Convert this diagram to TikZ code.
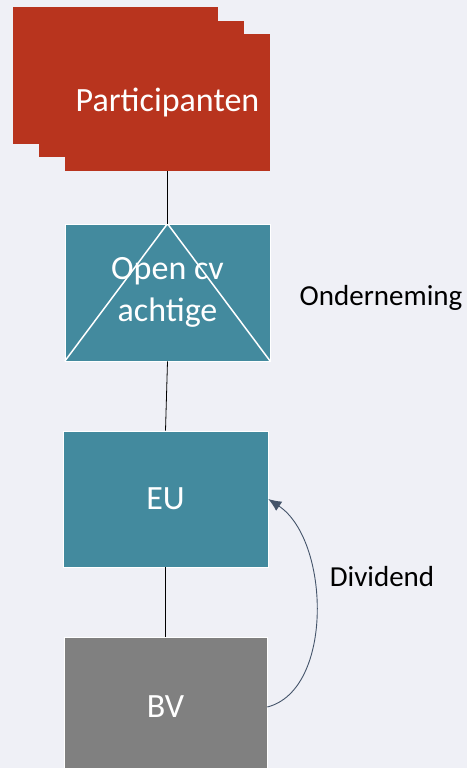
\documentclass[tikz,border=0pt]{standalone}
\usepackage{fontspec}
\setmainfont{Carlito}
\usepackage{tikz}
\usetikzlibrary{arrows.meta}
\definecolor{achtergrond}{RGB}{239,240,246}
\definecolor{rood}{RGB}{184,52,30}
\definecolor{blauwgroen}{RGB}{67,138,158}
\definecolor{grijs}{RGB}{128,128,128}
\definecolor{pijlkleur}{RGB}{68,84,106}

\begin{document}
\begin{tikzpicture}[x=1pt,y=-1pt,
		doos/.style={draw=white,line width=0.6pt,minimum width=205pt,minimum height=137pt,inner sep=0pt,align=center,text=white,font=\fontsize{34}{42}\selectfont},
		label/.style={text=black,font=\fontsize{29}{32}\selectfont}]
		\fill[achtergrond] (0,0) rectangle (467,768);
		\useasboundingbox (0,0) rectangle (467,768);
		\clip (0,0) rectangle (467,768);
		% stapel participanten
		\fill[rood] (13,7) rectangle (218,144);
		\fill[rood] (39,21) rectangle (244,157);
		\node[doos,fill=rood,draw=none] (part) at (167.5,102.5) {Participanten};
		\node[doos,fill=blauwgroen] (opencv) at (167.5,292.5) {Open cv\\achtige};
		\draw[white,line width=1.5pt] (opencv.south west) -- (opencv.north) -- (opencv.south east);%driehoek
		\node[doos,fill=blauwgroen,minimum height=136pt] (eu) at (165.5,499) {EU};
		\node[doos,fill=grijs,minimum width=203pt,minimum height=140pt] (bv) at (165.5,707) {BV};
		% verbindingen
		\draw[black,line width=0.8pt] (part.south) -- (opencv.north);
		\draw[black,line width=0.8pt] (opencv.south) -- (eu.north);
		\draw[black,line width=0.8pt] (eu.south) -- (bv.north);
		\draw[pijlkleur,line width=0.9pt,-{Latex[length=13pt,width=11pt]}] (bv.east) .. controls (334,690) and (330,540) .. (eu.east);
		\node[label] (onderneming) at (381,298) {Onderneming};
		\node[label] (dividend) at (382,577) {Dividend};
	\end{tikzpicture}
\end{document}
